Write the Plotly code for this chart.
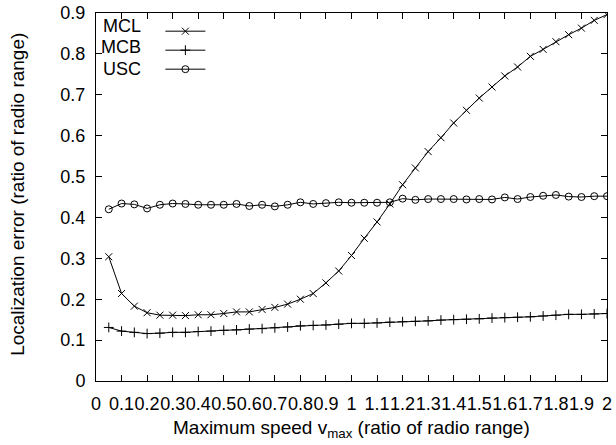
import plotly.graph_objects as go

speed = [0.05, 0.10, 0.15, 0.20, 0.25, 0.30, 0.35, 0.40, 0.45, 0.50,
         0.55, 0.60, 0.65, 0.70, 0.75, 0.80, 0.85, 0.90, 0.95, 1.00,
         1.05, 1.10, 1.15, 1.20, 1.25, 1.30, 1.35, 1.40, 1.45, 1.50,
         1.55, 1.60, 1.65, 1.70, 1.75, 1.80, 1.85, 1.90, 1.95, 2.00]

mcl = [0.304, 0.214, 0.183, 0.167, 0.161, 0.161, 0.160, 0.162, 0.162, 0.165,
       0.169, 0.169, 0.175, 0.180, 0.188, 0.200, 0.214, 0.240, 0.269, 0.307,
       0.349, 0.389, 0.433, 0.480, 0.521, 0.561, 0.595, 0.631, 0.662, 0.692,
       0.719, 0.746, 0.768, 0.794, 0.811, 0.830, 0.847, 0.863, 0.882, 0.896]

mcb = [0.131, 0.122, 0.119, 0.116, 0.117, 0.119, 0.119, 0.121, 0.122, 0.124,
       0.125, 0.127, 0.128, 0.130, 0.132, 0.135, 0.136, 0.137, 0.139, 0.141,
       0.141, 0.142, 0.144, 0.145, 0.146, 0.147, 0.149, 0.150, 0.151, 0.152,
       0.154, 0.155, 0.156, 0.157, 0.159, 0.161, 0.163, 0.163, 0.164, 0.165]

usc = [0.420, 0.434, 0.432, 0.422, 0.431, 0.434, 0.433, 0.431, 0.431, 0.431,
       0.433, 0.428, 0.431, 0.427, 0.431, 0.437, 0.433, 0.435, 0.437, 0.436,
       0.436, 0.436, 0.437, 0.446, 0.443, 0.445, 0.445, 0.445, 0.444, 0.445,
       0.444, 0.449, 0.445, 0.450, 0.453, 0.455, 0.451, 0.450, 0.452, 0.452]

series_names = ["MCL", "MCB", "USC"]
series_values = [mcl, mcb, usc]
series_symbols = ["x-thin-open", "cross-thin-open", "circle-open"]

x_title = "Maximum speed v<sub>max</sub> (ratio of radio range)"
y_title = "Localization error (ratio of radio range)"

FONT = "Liberation Sans, Arial, Helvetica, sans-serif"

fig = go.Figure()
for name, vals, sym in zip(series_names, series_values, series_symbols):
    fig.add_trace(go.Scatter(
        x=speed, y=vals, name=name, mode="lines+markers",
        line=dict(color="black", width=1),
        marker=dict(symbol=sym, size=7, color="black",
                    line=dict(color="black", width=1)),
    ))

axis_common = dict(
    showline=True, linecolor="black", linewidth=1, mirror="ticks",
    ticks="inside", ticklen=6, tickcolor="black", tickwidth=1,
    showgrid=False, zeroline=False, automargin=False,
    ticklabeloverflow="allow",
    tickfont=dict(family=FONT, size=18, color="black"),
)

# gnuplot-style key: names drawn left of the legend samples
ROW = 21.5 / 368
NAME_TOP = 0.9939
name_annotations = [
    dict(text=nm, xref="paper", yref="paper", x=0.091,
         y=NAME_TOP - (i + 0.5) * ROW,
         xanchor="right", yanchor="middle", showarrow=False,
         font=dict(family=FONT, size=18, color="black"))
    for i, nm in enumerate(series_names)
]

fig.update_layout(
    width=616, height=445,
    margin=dict(l=96, r=9, t=13, b=64),
    paper_bgcolor="white", plot_bgcolor="white",
    font=dict(family=FONT, size=18, color="black"),
    xaxis=dict(range=[0, 2], dtick=0.1, tick0=0, tickangle=0,
               ticklabelstandoff=6, **axis_common),
    yaxis=dict(range=[0, 0.9], dtick=0.1, tick0=0,
               ticklabelstandoff=6, **axis_common),
    legend=dict(x=0.126, y=0.990, xanchor="left", yanchor="top",
                bgcolor="rgba(0,0,0,0)",
                font=dict(family=FONT, size=12, color="rgba(0,0,0,0)"),
                tracegroupgap=0, itemwidth=40),
    showlegend=True,
    annotations=name_annotations + [
        dict(text=x_title, xref="paper", yref="paper", x=0.5, y=-0.13,
             xanchor="center", yanchor="middle", showarrow=False,
             font=dict(family=FONT, size=19, color="black")),
        dict(text=y_title, xref="paper", yref="paper", x=-0.155, y=0.508,
             xanchor="center", yanchor="middle", textangle=-90, showarrow=False,
             font=dict(family=FONT, size=19, color="black")),
    ],
)

fig.write_html("out.html", config={"displayModeBar": False},
               post_script="document.body.style.margin='0px';")
